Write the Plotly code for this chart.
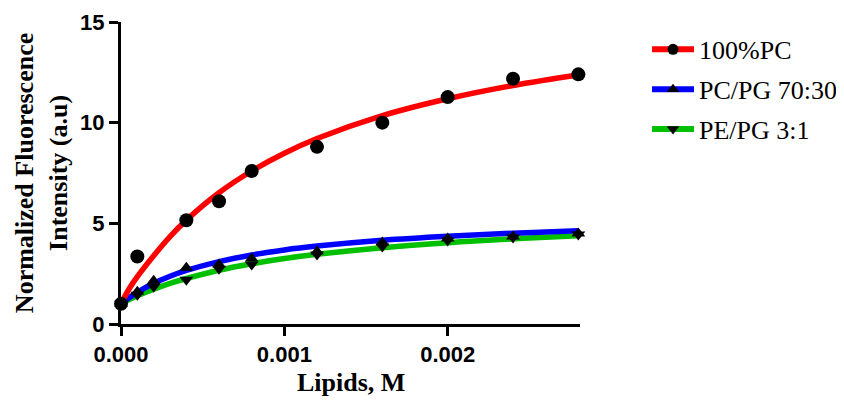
import plotly.graph_objects as go

# Measured data points
lipids_M = [0, 0.0001, 0.0002, 0.0004, 0.0006, 0.0008, 0.0012, 0.0016, 0.002, 0.0024, 0.0028]
pc100 = [1.0, 3.35, None, 5.15, 6.1, 7.6, 8.8, 10.0, 11.27, 12.18, 12.4]
pcpg_70_30 = [1.0, 1.6, 2.15, 2.8, 2.95, 3.25, 3.6, 4.05, 4.25, 4.35, 4.5]
pepg_3_1 = [1.0, 1.45, 1.85, 2.2, 2.75, 2.95, 3.45, 3.85, 4.15, 4.3, 4.45]

# Fitted curves
curve_x = [0, 0.00005, 0.0001, 0.0002, 0.0003, 0.0004, 0.0006, 0.0008, 0.001, 0.0012,
           0.0016, 0.002, 0.0024, 0.0028]
curve_pc100 = [1.0, 1.75, 2.35, 3.39, 4.34, 5.16, 6.52, 7.6, 8.48, 9.21, 10.35, 11.19, 11.85, 12.37]
curve_pcpg = [1.0, 1.31, 1.57, 2.02, 2.37, 2.66, 3.10, 3.43, 3.68, 3.87, 4.16, 4.36, 4.51, 4.63]
curve_pepg = [1.0, 1.21, 1.40, 1.73, 2.02, 2.26, 2.67, 2.99, 3.25, 3.46, 3.79, 4.04, 4.23, 4.38]

series_names = ["100%PC", "PC/PG 70:30", "PE/PG 3:1"]
series_colors = ["#ff0000", "#0000ff", "#00c000"]
series_symbols = ["circle", "triangle-up", "triangle-down"]

x_ticks = [0, 0.001, 0.002]
x_ticktext = ["0.000", "0.001", "0.002"]
y_ticks = [0, 5, 10, 15]

fig = go.Figure()

curves = [curve_pc100, curve_pcpg, curve_pepg]
points = [pc100, pcpg_70_30, pepg_3_1]

# curves (green first, then blue, then red)
for i in [2, 1, 0]:
    fig.add_trace(go.Scatter(x=curve_x, y=curves[i], mode="lines", line_shape="spline",
                             line=dict(color=series_colors[i], width=5.5),
                             showlegend=False, hoverinfo="skip", cliponaxis=False))
# data points
for i in [2, 1, 0]:
    fig.add_trace(go.Scatter(x=lipids_M, y=points[i], mode="markers",
                             marker=dict(color="black", size=12 if i else 14, symbol=series_symbols[i]),
                             showlegend=False, cliponaxis=False))
# legend entries
for i in range(3):
    fig.add_trace(go.Scatter(x=[None], y=[None], mode="lines+markers", name=series_names[i],
                             legendgroup=series_names[i], legendrank=i + 1,
                             line=dict(color=series_colors[i], width=6),
                             marker=dict(color="black", size=11, symbol=series_symbols[i])))

axis_common = dict(showline=True, linewidth=3, linecolor="black", ticks="outside",
                   ticklen=9, tickwidth=3, tickcolor="black", showgrid=False, zeroline=False,
                   automargin=False,
                   tickfont=dict(family="Liberation Sans", size=22, color="black", weight="bold"))

fig.update_layout(
    width=836, height=396,
    margin=dict(l=113, r=264, t=14, b=80, autoexpand=False),
    plot_bgcolor="white", paper_bgcolor="white",
    xaxis=dict(range=[0, 0.00281], tickvals=x_ticks, ticktext=x_ticktext, **axis_common),
    yaxis=dict(range=[0, 15], tickvals=y_ticks, **axis_common),
    legend=dict(x=1.146, y=0.987, xanchor="left", yanchor="top", tracegroupgap=3,
                itemwidth=42,
                font=dict(family="Liberation Serif", size=26, color="black"),
                bgcolor="rgba(0,0,0,0)"),
    annotations=[
        dict(text="Normalized Fluorescence<br>Intensity (a.u)", textangle=-90,
             xref="paper", yref="paper", x=-0.174, y=0.5, xanchor="center", yanchor="middle",
             showarrow=False,
             font=dict(family="Liberation Serif", size=26, color="black", weight="bold")),
        dict(text="Lipids, M", xref="paper", yref="paper", x=0.5, y=-0.195,
             xanchor="center", yanchor="middle", showarrow=False,
             font=dict(family="Liberation Serif", size=26, color="black", weight="bold")),
    ],
)

fig.write_html("out.html")
